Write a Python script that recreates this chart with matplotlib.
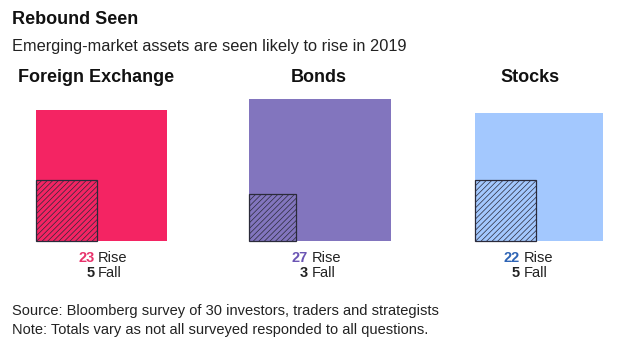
import numpy as np
import matplotlib.pyplot as plt
from matplotlib.patches import Rectangle

plt.rcParams['font.family'] = ['Liberation Sans', 'DejaVu Sans']
plt.rcParams['hatch.linewidth'] = 0.5

# data
categories = ['Foreign Exchange', 'Bonds', 'Stocks']
rise = [23, 27, 22]
fall = [5, 3, 5]
box_colors = ['#f42463', '#8275be', '#a3c8fe']
num_colors = ['#e8336c', '#6b55b4', '#2e64b5']

title = 'Rebound Seen'
subtitle = 'Emerging-market assets are seen likely to rise in 2019'
source = 'Source: Bloomberg survey of 30 investors, traders and strategists'
note = 'Note: Totals vary as not all surveyed responded to all questions.'

# layout (pixels)
W, H = 620, 349
base_y = 241
scale = 27.3
box_left = [36, 249, 475]
head_x = [96, 319, 530]
split_x = [94.5, 308, 520]

fig = plt.figure(figsize=(W / 100, H / 100), dpi=100)
ax = fig.add_axes([0, 0, 1, 1])
ax.set_xlim(0, W)
ax.set_ylim(H, 0)
ax.axis('off')

ax.text(12, 20, title, fontsize=13, fontweight='bold', color='#111111', va='center')
ax.text(12, 46, subtitle, fontsize=11.8, color='#222222', va='center')

for i, cat in enumerate(categories):
    big = np.sqrt(rise[i]) * scale
    small = np.sqrt(fall[i]) * scale
    ax.add_patch(Rectangle((box_left[i], base_y - big), big, big,
                           facecolor=box_colors[i], edgecolor='none'))
    ax.add_patch(Rectangle((box_left[i], base_y - small), small, small,
                           facecolor='none', edgecolor='#2a2a3a',
                           hatch='//////', linewidth=0.9))
    ax.text(head_x[i], 77, cat, fontsize=13, fontweight='bold',
            color='#111111', ha='center', va='center')
    ax.text(split_x[i], 258, str(rise[i]), fontsize=10.5, fontweight='bold',
            color=num_colors[i], ha='right', va='center')
    ax.text(split_x[i] + 3.5, 258, 'Rise', fontsize=10.5, color='#222222',
            ha='left', va='center')
    ax.text(split_x[i], 273, str(fall[i]), fontsize=10.5, fontweight='bold',
            color='#222222', ha='right', va='center')
    ax.text(split_x[i] + 3.5, 273, 'Fall', fontsize=10.5, color='#222222',
            ha='left', va='center')

ax.text(12, 311, source, fontsize=10.5, color='#222222', va='center')
ax.text(12, 330, note, fontsize=10.5, color='#222222', va='center')

fig.savefig('out.png', dpi=100)
